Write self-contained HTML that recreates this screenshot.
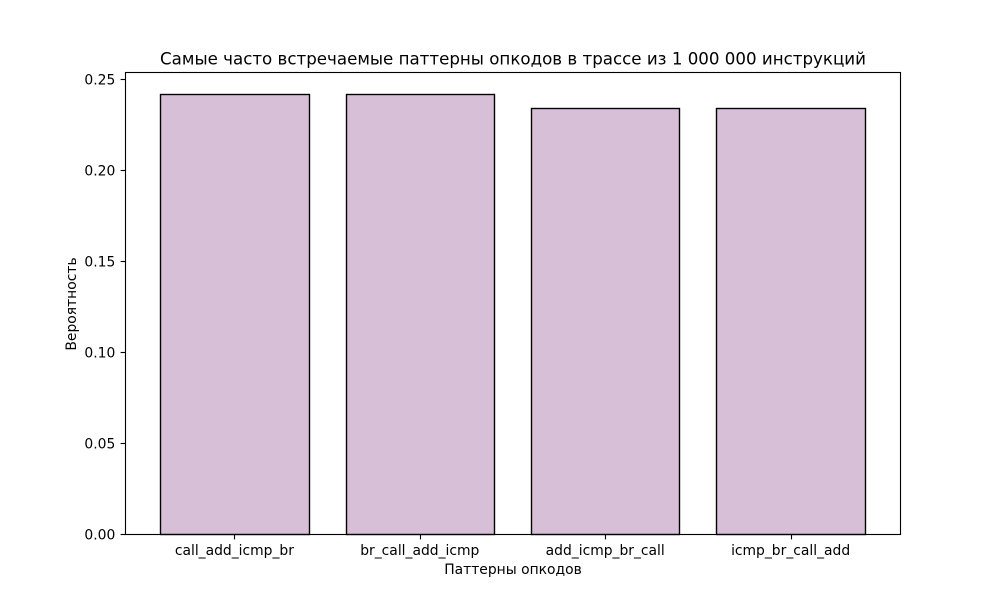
<!DOCTYPE html>
<html lang="ru">
<head>
<meta charset="utf-8">
<title>Паттерны опкодов</title>
<style>
html,body{margin:0;padding:0;background:#fff;width:1000px;height:600px;overflow:hidden}
svg{display:block}
text{font-family:"DejaVu Sans","Liberation Sans",sans-serif;fill:#000}
</style>
</head>
<body>
<svg id="chart" width="1000" height="600" viewBox="0 0 1000 600" xmlns="http://www.w3.org/2000/svg">
<rect x="0" y="0" width="1000" height="600" fill="#ffffff"/>
<text x="513" y="64.5" font-size="16.67" text-anchor="middle">Самые часто встречаемые паттерны опкодов в трассе из 1 000 000 инструкций</text>
<text x="513" y="574" font-size="13.89" text-anchor="middle">Паттерны опкодов</text>
<text transform="translate(76,304) rotate(-90)" font-size="13.89" text-anchor="middle">Вероятность</text>
<g id="bars"></g>
<g id="ticks"></g>
<rect x="125.5" y="72.5" width="775" height="462" fill="none" stroke="#000" stroke-width="1.11"/>
</svg>
<script>
const categories = ['call_add_icmp_br', 'br_call_add_icmp', 'add_icmp_br_call', 'icmp_br_call_add'];
const probabilities = [0.242, 0.242, 0.2341, 0.2341];
const yTickValues = [0, 0.05, 0.10, 0.15, 0.20, 0.25];
const yTickLabels = ['0.00', '0.05', '0.10', '0.15', '0.20', '0.25'];

const NS = 'http://www.w3.org/2000/svg';
const plot = { left: 125, right: 900, top: 72, bottom: 534 };
const barWidth = 0.8;
const xMin = -barWidth / 2 - 0.05 * (categories.length - 1 + barWidth);
const xMax = categories.length - 1 + barWidth / 2 + 0.05 * (categories.length - 1 + barWidth);
const yMax = Math.max(...probabilities) * 1.05;

function xScale(v) {
  return plot.left + (v - xMin) / (xMax - xMin) * (plot.right - plot.left);
}
function yScale(v) {
  return plot.bottom - v / yMax * (plot.bottom - plot.top);
}
function snapX(v) {
  return Math.floor(v + 0.5) + 0.5;
}
function snapY(v) {
  return Math.floor(v + 0.2) + 0.5;
}
function make(tag, attrs, parent) {
  const el = document.createElementNS(NS, tag);
  for (const k in attrs) el.setAttribute(k, attrs[k]);
  parent.appendChild(el);
  return el;
}

const barsGroup = document.getElementById('bars');
const ticksGroup = document.getElementById('ticks');

categories.forEach(function (cat, i) {
  const x0 = snapX(xScale(i - barWidth / 2));
  const x1 = snapX(xScale(i + barWidth / 2));
  const y = snapY(yScale(probabilities[i]));
  const base = snapY(yScale(0));
  const bar = make('rect', { x: x0, y: y, width: x1 - x0, height: base - y, fill: '#d8bfd8', stroke: '#000', 'stroke-width': 1.39 }, barsGroup);
  
  

  const cx = snapX(xScale(i));
  const tick = make('line', { x1: cx, x2: cx, y1: plot.bottom + 0.5, y2: plot.bottom + 5.4, stroke: '#000', 'stroke-width': 1.11 }, ticksGroup);
  
  

  const label = make('text', { x: xScale(i), y: 555, 'font-size': 13.89, 'text-anchor': 'middle' }, ticksGroup);
  label.textContent = cat;
  
  
});

yTickValues.forEach(function (v, i) {
  const y = snapY(yScale(v));
  const tick = make('line', { x1: plot.left - 4.4, x2: plot.left + 0.5, y1: y, y2: y, stroke: '#000', 'stroke-width': 1.11 }, ticksGroup);
  
  

  const label = make('text', { x: 115.3, y: y + 5, 'font-size': 13.89, 'text-anchor': 'end' }, ticksGroup);
  label.textContent = yTickLabels[i];
  
  
});
</script>
</body>
</html>
